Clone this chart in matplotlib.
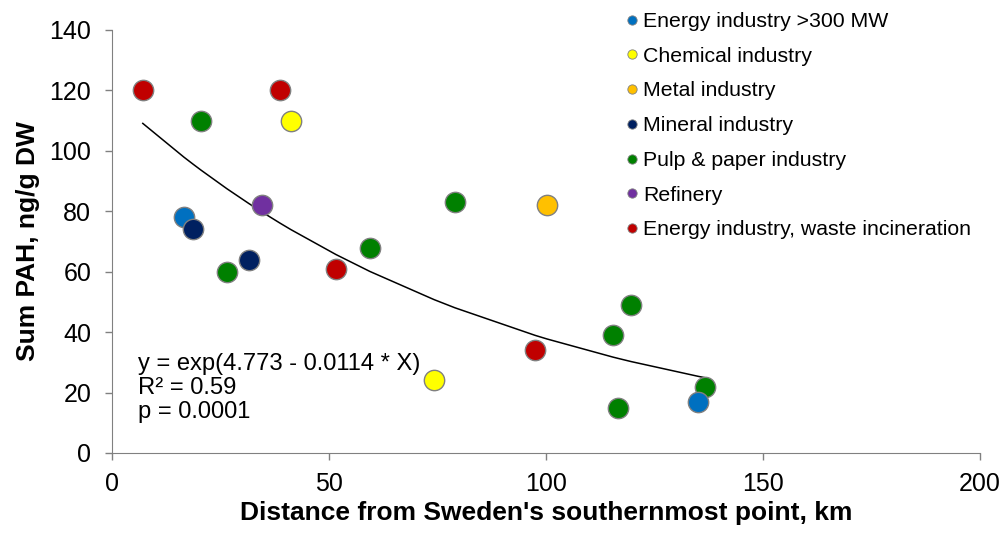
import numpy as np
import matplotlib.pyplot as plt
from matplotlib.lines import Line2D

plt.rcParams['font.family'] = ['Liberation Sans', 'DejaVu Sans']

categories = ["Energy industry >300 MW", "Chemical industry", "Metal industry",
              "Mineral industry", "Pulp & paper industry", "Refinery",
              "Energy industry, waste incineration"]
colors = ["#0070C0", "#FFFF00", "#FFC000", "#002060", "#008000", "#7030A0", "#C00000"]

# distance (km), sum PAH (ng/g DW) per category
dist = {
    "Energy industry >300 MW": [16.6, 135],
    "Chemical industry": [41.2, 74.2],
    "Metal industry": [100.2],
    "Mineral industry": [18.7, 31.6],
    "Pulp & paper industry": [20.5, 26.5, 59.4, 79, 115.4, 119.6, 116.6, 136.6],
    "Refinery": [34.6],
    "Energy industry, waste incineration": [7.1, 38.7, 51.6, 97.5],
}
pah = {
    "Energy industry >300 MW": [78, 17],
    "Chemical industry": [110, 24],
    "Metal industry": [82],
    "Mineral industry": [74, 64],
    "Pulp & paper industry": [110, 60, 68, 83, 39, 49, 15, 22],
    "Refinery": [82],
    "Energy industry, waste incineration": [120, 120, 61, 34],
}

fig = plt.figure(figsize=(10.06, 5.35), dpi=100)
ax = fig.add_axes([0.1113, 0.1533, 0.863, 0.7907])

order = [4, 0, 1, 2, 3, 5, 6]
for i in order:
    c = categories[i]
    ax.scatter(dist[c], pah[c], s=215, color=colors[i], edgecolor="#808080",
               linewidth=1.0, zorder=3)

# exponential trend line through the sorted x values
xall = np.sort(np.concatenate([dist[c] for c in categories]))
ax.plot(xall, np.exp(4.773 - 0.0114 * xall), color="black", lw=1.1, zorder=2)

ax.text(5.9, 10, "y = exp(4.773 - 0.0114 * X)\nR² = 0.59\np = 0.0001",
        fontsize=17.1, linespacing=1.1, va="bottom")

ax.set_xlim(0, 200)
ax.set_ylim(0, 140)
ax.set_xticks([0, 50, 100, 150, 200])
ax.set_yticks(range(0, 141, 20))
ax.tick_params(labelsize=18, color="#808080", length=5, width=1)
ax.tick_params(axis="y", pad=10)
ax.tick_params(axis="x", pad=9)
for s in ["top", "right"]:
    ax.spines[s].set_visible(False)
for s in ["left", "bottom"]:
    ax.spines[s].set_color("#808080")
ax.set_xlabel("Distance from Sweden's southernmost point, km", fontsize=19,
              fontweight="bold", labelpad=3)
ax.set_ylabel("Sum PAH, ng/g DW", fontsize=19, fontweight="bold", labelpad=7)

handles = [Line2D([], [], ls="", marker="o", markersize=6.7, markerfacecolor=col,
                  markeredgecolor="#808080", markeredgewidth=0.6) for col in colors]
fig.legend(handles, categories, loc="upper left", bbox_to_anchor=(0.622, 0.9775),
           frameon=False, fontsize=15.3, handlelength=0.6, handletextpad=0.22,
           labelspacing=0.74, borderaxespad=0, borderpad=0)

fig.savefig("out.png", dpi=100)
